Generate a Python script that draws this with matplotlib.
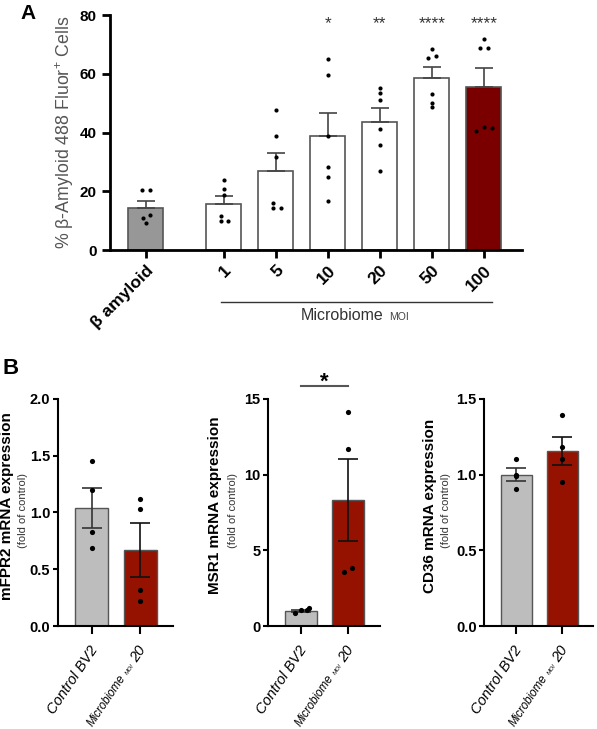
import numpy as np
import matplotlib
matplotlib.use('Agg')
import matplotlib.pyplot as plt
import matplotlib.transforms as mtransforms
from matplotlib.ticker import MultipleLocator, FormatStrFormatter

plt.rcParams['font.family'] = ['Liberation Sans', 'DejaVu Sans']
plt.rcParams['mathtext.fontset'] = 'custom'
plt.rcParams['mathtext.rm'] = 'Liberation Sans'
plt.rcParams['mathtext.it'] = 'Liberation Sans:italic'

# パネルA のデータ
A_LABELS = ['β amyloid', '1', '5', '10', '20', '50', '100']
A_MEAN = [14.3, 15.6, 26.8, 38.8, 43.8, 58.5, 55.4]
A_SEM = [2.5, 2.9, 6.2, 8.0, 4.7, 3.8, 6.7]
A_POINTS = [[20.3, 20.3, 11.9, 10.8, 9.3],
            [24.0, 20.9, 18.6, 11.6, 10.0, 10.0],
            [47.6, 38.9, 31.7, 15.9, 14.4, 14.4],
            [65.1, 59.5, 38.9, 28.3, 24.9, 16.7],
            [55.3, 53.6, 51.0, 41.4, 35.8, 26.9],
            [68.4, 65.4, 66.0, 53.3, 50.1, 48.7],
            [71.8, 69.0, 69.0, 40.7, 41.8, 41.6]]
A_STARS = ['', '', '', '*', '**', '****', '****']

# パネルB のデータ
B_GENES = ['mFPR2', 'MSR1', 'CD36']
B_MEAN_CTRL = [1.04, 1.01, 1.0]
B_SEM_CTRL = [0.175, 0.08, 0.045]
B_MEAN_MIC = [0.67, 8.3, 1.155]
B_SEM_MIC = [0.235, 2.7, 0.095]
B_PTS_CTRL = [[1.45, 1.2, 0.83, 0.69], [0.84, 1.06, 1.1, 1.2], [1.10, 1.0, 0.99, 0.905]]
B_PTS_MIC = [[1.12, 1.03, 0.32, 0.22], [14.1, 11.7, 3.6, 3.85], [1.39, 1.185, 1.106, 0.952]]
B_YMAX = [2.0, 15, 1.5]
B_YSTEP = [0.5, 5, 0.5]
B_FMT = ['%.1f', '%d', '%.1f']

# 点の横ずらし（見た目用）
A_JIT = [[-0.065, 0.09, 0.08, -0.06, 0.0],
         [0, 0, 0, -0.06, -0.06, 0.09],
         [0, 0, 0, -0.06, -0.06, 0.1],
         [0] * 6, [0] * 6,
         [0, -0.08, 0.08, 0, 0, 0],
         [0, -0.08, 0.08, -0.15, 0, 0.15]]
B_JIT_CTRL = [[0] * 4, [-0.12, 0, 0.12, 0.16], [0] * 4]
B_JIT_MIC = [[0] * 4, [0, 0, -0.08, 0.08], [0] * 4]

A_COLORS = ['#979797', 'white', 'white', 'white', 'white', 'white', '#7a0000']
CTRL_COLOR = '#bdbdbd'
MIC_COLOR = '#961200'

fig = plt.figure(figsize=(5.97, 7.29), dpi=100)

# ---- パネルA ----
axA = fig.add_axes([0.184, 0.657, 0.690, 0.322])
pos = np.r_[0, np.arange(6) + 1.5]
axA.bar(pos, A_MEAN, width=0.67, color=A_COLORS, edgecolor='#555555', linewidth=1.2, zorder=2)
axA.errorbar(pos, A_MEAN, yerr=[np.zeros(7), A_SEM], fmt='none', ecolor='#444444',
             elinewidth=1.2, capsize=6.5, capthick=1.2, zorder=3)
for i in range(7):
    axA.scatter(pos[i] + np.array(A_JIT[i]), A_POINTS[i], s=9, color='black', zorder=4, linewidths=0)
    if A_STARS[i]:
        axA.text(pos[i], 77.3, A_STARS[i], ha='center', va='center', fontsize=12.5, color='#333333')
axA.set_xlim(-0.69, 7.23)
axA.set_ylim(0, 80)
axA.yaxis.set_major_locator(MultipleLocator(20))
axA.set_xticks(pos)
axA.set_xticklabels(A_LABELS, rotation=45, ha='right', rotation_mode='anchor',
                    fontsize=12.5, fontweight='bold')
for lab in axA.get_yticklabels():
    lab.set_fontweight('bold')
    lab.set_fontsize(11)
axA.tick_params(axis='both', width=2, length=6, color='black')
axA.tick_params(axis='x', pad=3)
for s in ['top', 'right']:
    axA.spines[s].set_visible(False)
for s in ['left', 'bottom']:
    axA.spines[s].set_linewidth(2)
axA.text(-0.109, 0.5, r'% β-Amyloid 488 Fluor$^{+}$ Cells', transform=axA.transAxes,
         rotation=90, ha='center', va='center', fontsize=12.8, color='#555555')
axA.plot([1.45, 6.65], [-17.7, -17.7], color='#333333', lw=1, clip_on=False)
axA.text(4.58, -22.3, 'Microbiome', ha='right', va='center', fontsize=11.5, color='#333333')
axA.text(4.68, -22.8, 'MOI', ha='left', va='center', fontsize=7.5, color='#444444')

fig.text(0.047, 0.982, 'A', fontsize=15, fontweight='bold', ha='center', va='center')
fig.text(0.017, 0.495, 'B', fontsize=16, fontweight='bold', ha='center', va='center')

# ---- パネルB ----
B_RECTS = [[0.097, 0.141, 0.193, 0.312], [0.449, 0.141, 0.188, 0.312], [0.811, 0.141, 0.183, 0.312]]
B_LAB_X = [(-0.443, -0.30), (-0.473, -0.3125), (-0.50, -0.345)]
ROT = 56
for k in range(3):
    ax = fig.add_axes(B_RECTS[k])
    ax.bar([0, 1], [B_MEAN_CTRL[k], B_MEAN_MIC[k]], width=0.68,
           color=[CTRL_COLOR, MIC_COLOR], edgecolor='#555555', linewidth=1, zorder=2)
    ax.errorbar([0], [B_MEAN_CTRL[k]], yerr=[B_SEM_CTRL[k]], fmt='none', ecolor='#333333',
                elinewidth=1.2, capsize=7, capthick=1.2, zorder=3)
    ax.errorbar([1], [B_MEAN_MIC[k]], yerr=[B_SEM_MIC[k]], fmt='none', ecolor='#111111',
                elinewidth=1.2, capsize=7, capthick=1.2, zorder=3)
    ax.scatter(np.array(B_JIT_CTRL[k]), B_PTS_CTRL[k], s=14, color='black', zorder=4, linewidths=0)
    ax.scatter(1 + np.array(B_JIT_MIC[k]), B_PTS_MIC[k], s=14, color='black', zorder=4, linewidths=0)
    ax.set_xlim(-0.7, 1.68)
    ax.set_ylim(0, B_YMAX[k])
    ax.yaxis.set_major_locator(MultipleLocator(B_YSTEP[k]))
    ax.yaxis.set_major_formatter(FormatStrFormatter(B_FMT[k]))
    for lab in ax.get_yticklabels():
        lab.set_fontweight('bold')
        lab.set_fontsize(10.5)
    ax.set_xticks([0, 1])
    ax.set_xticklabels([])
    ax.tick_params(axis='x', width=1.5, length=6, color='black')
    ax.tick_params(axis='y', width=1.5, length=3.5, color='black', pad=2)
    for s in ['top', 'right']:
        ax.spines[s].set_visible(False)
    for s in ['left', 'bottom']:
        ax.spines[s].set_linewidth(1.5)
    ax.text(B_LAB_X[k][0], 0.53, B_GENES[k] + ' mRNA expression', transform=ax.transAxes,
            rotation=90, ha='center', va='center', fontsize=11, fontweight='bold')
    ax.text(B_LAB_X[k][1], 0.51, '(fold of control)', transform=ax.transAxes,
            rotation=90, ha='center', va='center', fontsize=8, color='#333333')

    # 斜めのカテゴリ名
    base = mtransforms.blended_transform_factory(ax.transData, ax.transAxes)
    t0 = mtransforms.offset_copy(base, fig=fig, x=2, y=-15, units='points')
    ax.text(0, 0, 'Control BV2', transform=t0, rotation=ROT, rotation_mode='anchor',
            ha='right', va='center', fontsize=10.5, style='italic')
    t1 = mtransforms.offset_copy(base, fig=fig, x=2, y=-15, units='points')
    ax.text(1, 0, '20', transform=t1, rotation=ROT, rotation_mode='anchor',
            ha='right', va='center', fontsize=10.5, style='italic')
    dx, dy = -np.cos(np.radians(ROT)), -np.sin(np.radians(ROT))
    d = 14.5
    t2 = mtransforms.offset_copy(base, fig=fig, x=2 + d * dx + 1.0, y=-15 + d * dy - 0.7, units='points')
    ax.text(1, 0, 'MOI', transform=t2, rotation=ROT, rotation_mode='anchor',
            ha='right', va='center', fontsize=4.5, style='italic')
    d = 25
    t3 = mtransforms.offset_copy(base, fig=fig, x=2 + d * dx, y=-15 + d * dy, units='points')
    ax.text(1, 0, 'Microbiome', transform=t3, rotation=ROT, rotation_mode='anchor',
            ha='right', va='center', fontsize=8.3, style='italic')

    if k == 1:
        ax.plot([0, 1], [15.86, 15.86], color='#555555', lw=1.5, clip_on=False)
        ax.text(0.5, 16.1, '*', ha='center', va='center', fontsize=16, fontweight='bold')

fig.savefig('out.png', dpi=100)
